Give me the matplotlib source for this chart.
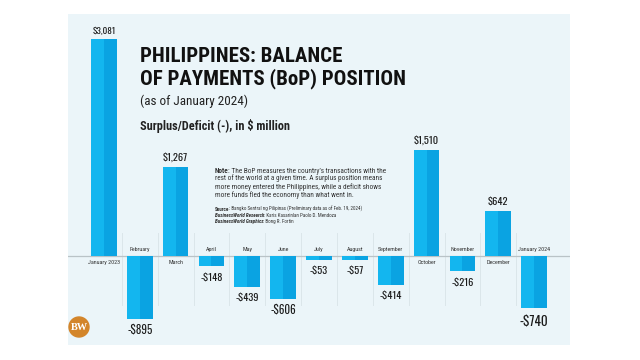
import matplotlib.pyplot as plt
from matplotlib.patches import Circle

months = ['January 2023', 'February', 'March', 'April', 'May', 'June', 'July',
          'August', 'September', 'October', 'November', 'December', 'January 2024']
values = [3081, -895, 1267, -148, -439, -606, -53, -57, -414, 1510, -216, 642, -740]
labels = ['$3,081', '-$895', '$1,267', '-$148', '-$439', '-$606', '-$53',
          '-$57', '-$414', '$1,510', '-$216', '$642', '-$740']
label_sizes = [6.5, 8, 7.5, 7.5, 7.5, 8, 7.5, 7.5, 7.5, 7.5, 7.5, 7.5, 9.5]

plt.rcParams['font.family'] = ['Roboto Condensed', 'DejaVu Sans']
VAL_FONT = ['Oswald', 'Roboto Condensed', 'DejaVu Sans']

fig = plt.figure(figsize=(6.4, 3.6), dpi=100)
fig.patch.set_facecolor('white')
ax = fig.add_axes([68 / 640, 15 / 360, 502 / 640, 331 / 360])
ax.set_facecolor('#ebf5f9')
ax.set_xlim(-1.0, 13.0)
ax.set_ylim(-1264, 3437)
for s in ax.spines.values():
    s.set_visible(False)
ax.set_xticks([])
ax.set_yticks([])

x = list(range(len(values)))
w = 0.36
# two-tone bars: lighter left half, darker right half
ax.bar([i - w / 2 for i in x], values, width=w, color='#13b6ef', zorder=3)
ax.bar([i + w / 2 for i in x], values, width=w, color='#0aa3e2', zorder=3)

# faint column separators
for i in range(len(values) - 1):
    ax.plot([i + 0.5, i + 0.5], [-700, 330], color='#dbe6ea', lw=0.7, zorder=1)
ax.axhline(0, color='#b9c3c7', lw=0.9, zorder=2)

for i, v in enumerate(values):
    if v >= 0:
        ax.text(i, v + 60, labels[i], ha='center', va='bottom', fontsize=label_sizes[i],
                family=VAL_FONT, fontweight='bold', color='#1b1b1b', zorder=4)
        ax.text(i, -60, months[i], ha='center', va='top', fontsize=4.3,
                color='#333333', zorder=4)
    else:
        ax.text(i, v - 80, labels[i], ha='center', va='top', fontsize=label_sizes[i],
                family=VAL_FONT, fontweight='bold', color='#1b1b1b', zorder=4)
        ax.text(i, 60, months[i], ha='center', va='bottom', fontsize=4.3,
                color='#333333', zorder=4)

# titles
fig.text(140 / 640, 1 - 47 / 360, 'PHILIPPINES: BALANCE\nOF PAYMENTS (BoP) POSITION',
         ha='left', va='top', fontsize=15, fontweight='bold', color='#111111',
         linespacing=1.12)
fig.text(140 / 640, 1 - 101 / 360, '(as of January 2024)', ha='left', va='center',
         fontsize=9.5, color='#222222')
fig.text(140 / 640, 1 - 126 / 360, 'Surplus/Deficit (-), in $ million', ha='left',
         va='center', fontsize=8.8, fontweight='bold', color='#222222')

# note block, bold lead words chained onto the rest of each line
t = fig.text(215 / 640, 1 - 167 / 360, 'Note', ha='left', va='top', fontsize=5.2,
             fontweight='bold', color='#333333')
ax.annotate(': The BoP measures the country\u2019s transactions with the',
            xy=(1, 0), xycoords=t, xytext=(-0.6, 0), textcoords='offset points',
            ha='left', va='bottom', fontsize=5.2, color='#333333')
fig.text(215 / 640, 1 - 174.5 / 360,
         'rest of the world at a given time. A surplus position means\n'
         'more money entered the Philippines, while a deficit shows\n'
         'more funds fled the economy than what went in.',
         ha='left', va='top', fontsize=5.2, color='#333333', linespacing=1.08)

src_heads = ['Source', 'BusinessWorld Research', 'BusinessWorld Graphics']
src_rest = [': Bangko Sentral ng Pilipinas (Preliminary data as of Feb. 19, 2024)',
            ': Karis Kasarinlan Paolo D. Mendoza',
            ': Bong R. Fortin']
for k, (hd, rest) in enumerate(zip(src_heads, src_rest)):
    h = fig.text(215 / 640, 1 - (207 + 6 * k) / 360, hd, ha='left', va='top',
                 fontsize=3.7, fontweight='bold', style='normal' if k == 0 else 'italic',
                 color='#333333')
    ax.annotate(rest, xy=(1, 0), xycoords=h, xytext=(-0.4, 0), textcoords='offset points',
                ha='left', va='bottom', fontsize=3.7, color='#333333')

# BW logo
logo = Circle((79 / 100, (360 - 327) / 100), 0.10, transform=fig.dpi_scale_trans,
              color='#d3852a')
fig.patches.append(logo)
fig.text(79 / 640, 1 - 327 / 360, 'BW', ha='center', va='center', fontsize=7.5,
         color='white', family='Liberation Serif', fontweight='bold')

fig.savefig('out.png', dpi=100)
